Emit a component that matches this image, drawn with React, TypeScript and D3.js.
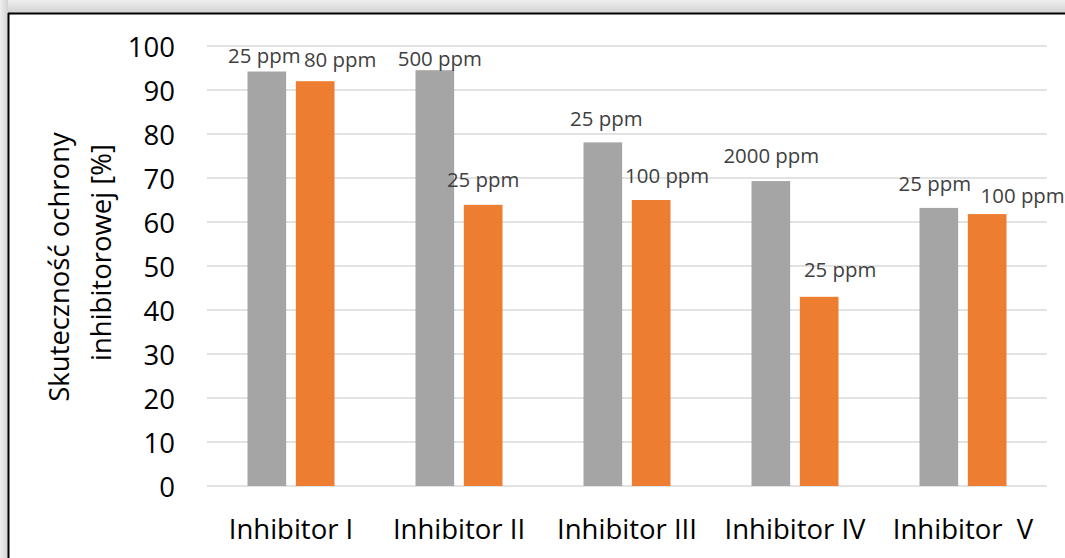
import React from "react";
import * as d3 from "d3";

const categories = ["Inhibitor I", "Inhibitor II", "Inhibitor III", "Inhibitor IV", "Inhibitor  V"];
const grayValues = [94.2, 94.5, 78.1, 69.3, 63.2];
const orangeValues = [92.0, 63.9, 65.0, 43.0, 61.8];
const grayLabels = ["25 ppm", "500 ppm", "25 ppm", "2000 ppm", "25 ppm"];
const orangeLabels = ["80 ppm", "25 ppm", "100 ppm", "25 ppm", "100 ppm"];
const yTicks = [0, 10, 20, 30, 40, 50, 60, 70, 80, 90, 100];
const yTitleLines = ["Skuteczność ochrony", "inhibitorowej [%]"];

// label nudges (dx from bar centre, baseline dy from bar top), px
const grayNudge: [number, number][] = [[-2.5, -9], [5, -4.5], [3.5, -16], [0.5, -18], [-4, -17]];
const orangeNudge: [number, number][] = [[25, -14], [0, -18], [16, -17], [21, -20], [35.5, -11]];

const W = 1065;
const H = 558;
const FONT = "'Open Sans', sans-serif";

export default function App() {
  const x = d3.scaleBand<string>().domain(categories).range([207, 1047]).padding(0);
  const sub = d3
    .scaleBand<string>()
    .domain(["g", "o"])
    .range([40.5, 127.5])
    .paddingInner(0.2)
    .paddingOuter(0);
  const y = d3.scaleLinear().domain([0, 100]).range([486, 46]);
  const bw = sub.bandwidth();

  const series = [
    { key: "g", values: grayValues, labels: grayLabels, nudge: grayNudge, color: "#A5A5A5" },
    { key: "o", values: orangeValues, labels: orangeLabels, nudge: orangeNudge, color: "#ED7D31" },
  ];

  return (
    <svg
      width={W}
      height={H}
      style={{ position: "absolute", left: 0, top: 0, display: "block" }}
      fontFamily={FONT}
    >
      <defs>
        <linearGradient id="shTop" x1="0" y1="0" x2="0" y2="1">
          <stop offset="0" stopColor="#efefef" />
          <stop offset="1" stopColor="#d2d2d2" />
        </linearGradient>
        <linearGradient id="shLeft" x1="0" y1="0" x2="1" y2="0">
          <stop offset="0" stopColor="#efefef" />
          <stop offset="1" stopColor="#d2d2d2" />
        </linearGradient>
      </defs>
      <rect x={0} y={0} width={W} height={H} fill="#ffffff" />
      <rect x={0} y={0} width={W} height={13} fill="url(#shTop)" />
      <rect x={0} y={0} width={8} height={H} fill="url(#shLeft)" />
      <line x1={8} y1={13.5} x2={W} y2={13.5} stroke="#000" strokeWidth={2} />
      <line x1={8.5} y1={13} x2={8.5} y2={H} stroke="#000" strokeWidth={2} />

      {/* gridlines */}
      {yTicks.map((t) => (
        <line
          key={"g" + t}
          x1={207}
          x2={1047}
          y1={y(t)}
          y2={y(t)}
          stroke="#D9D9D9"
          strokeWidth={1.5}
        />
      ))}

      {/* y tick labels */}
      {yTicks.map((t) => (
        <text
          key={"t" + t}
          x={175}
          y={y(t)}
          textAnchor="end"
          dominantBaseline="central"
          fontSize={27.5}
          fill="#000"
        >
          {t}
        </text>
      ))}

      {/* y title */}
      <text
        transform="rotate(-90)"
        x={-267}
        y={69}
        textAnchor="middle"
        fontSize={27.5}
        fill="#000"
      >
        {yTitleLines[0]}
      </text>
      <text
        transform="rotate(-90)"
        x={-252.5}
        y={110.7}
        textAnchor="middle"
        fontSize={27.5}
        fill="#000"
      >
        {yTitleLines[1]}
      </text>

      {/* bars */}
      {series.map((s) =>
        categories.map((c, i) => {
          const x0 = (x(c) as number) + (sub(s.key) as number);
          return (
            <rect
              key={s.key + i}
              x={x0}
              y={y(s.values[i])}
              width={bw}
              height={y(0) - y(s.values[i])}
              fill={s.color}
            />
          );
        })
      )}

      {/* data labels */}
      {series.map((s) =>
        categories.map((c, i) => {
          const cx = (x(c) as number) + (sub(s.key) as number) + bw / 2;
          return (
            <text
              key={"l" + s.key + i}
              x={cx + s.nudge[i][0]}
              y={y(s.values[i]) + s.nudge[i][1]}
              textAnchor="middle"
              fontSize={20.4}
              fill="#404040"
            >
              {s.labels[i]}
            </text>
          );
        })
      )}

      {/* x labels */}
      {categories.map((c) => (
        <text
          key={"x" + c}
          x={(x(c) as number) + x.bandwidth() / 2}
          y={539}
          textAnchor="middle"
          fontSize={27.5}
          fill="#000"
          style={{ whiteSpace: "pre" }}
        >
          {c}
        </text>
      ))}
    </svg>
  );
}
